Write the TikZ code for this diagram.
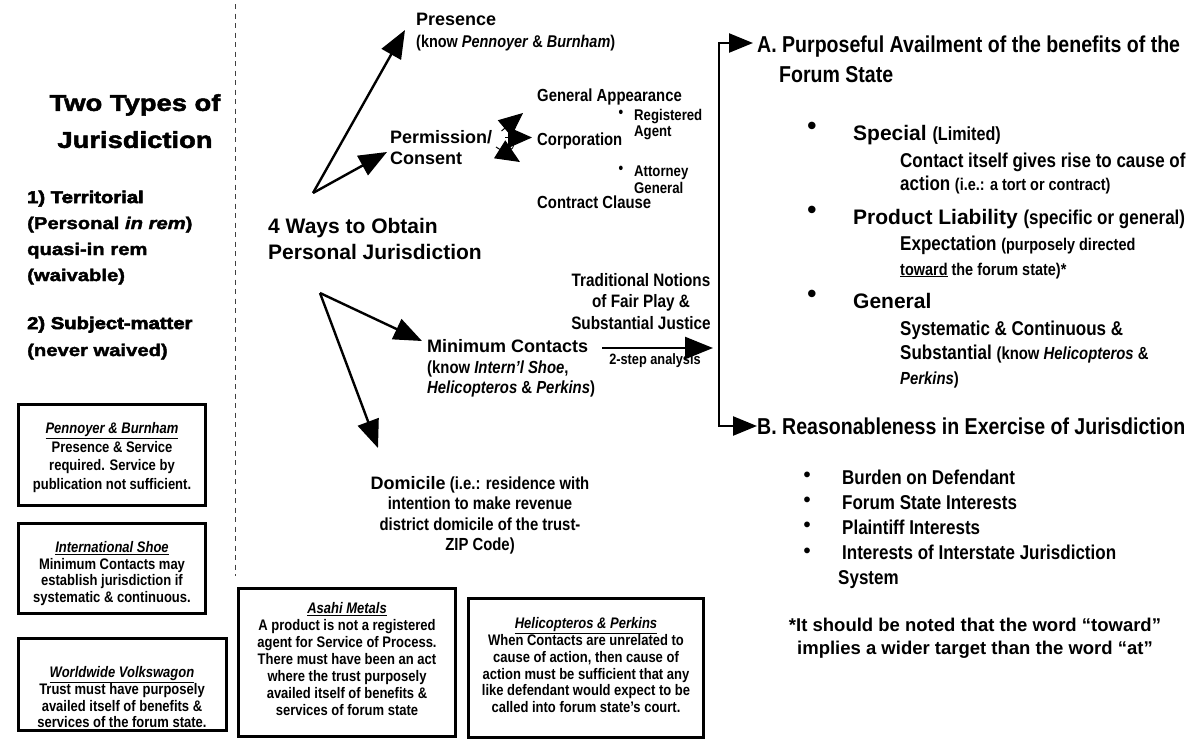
\documentclass[tikz,border=0pt]{standalone}
\usepackage{fontspec}
\setmainfont{Liberation Sans}
\newfontfamily\nar[FakeStretch=0.85]{Liberation Sans}
\newfontfamily\blk[FakeStretch=1.19,FakeBold=2.2]{Liberation Sans}
\newfontfamily\blkk[FakeStretch=1.19,FakeBold=3.5]{Liberation Sans}
\usetikzlibrary{arrows.meta}
\newcommand\W[2]{\normalfont\bfseries\fontsize{#1}{#2}\selectfont}
\newcommand\N[2]{\nar\bfseries\fontsize{#1}{#2}\selectfont}
\newcommand\B[2]{\blk\bfseries\fontsize{#1}{#2}\selectfont}
\begin{document}
\begin{tikzpicture}[x=1pt,y=-1pt,
  every node/.style={inner sep=0pt},
  txt/.style={align=left, anchor=north west},
  ctxt/.style={align=center, anchor=north},
  box/.style={draw, line width=3pt, inner sep=0pt},
  arr/.style={line width=2.4pt, -{Triangle[length=28pt,width=22pt]}},
  brk/.style={line width=2.4pt, {Triangle[length=24pt,width=19pt]}-{Triangle[length=24pt,width=19pt]}},
  bow/.style={line width=1pt, -{Triangle[length=24pt,width=21pt]}},
  bul/.style={font=\W{20}{20}}]
\fill[white] (0,0) rectangle (1199,740);
\useasboundingbox (0,0) rectangle (1199,740);

% divider
\coordinate (dv1) at (235,4); \coordinate (dv2) at (235,576);
\draw[dash pattern=on 5pt off 4.5pt, line width=0.9pt, black!75] (dv1) -- (dv2);

% left column
\node[ctxt, font=\B{23}{37}] (title) at (135,94) {Two Types of\\Jurisdiction};
\node[txt, font=\B{17}{26}] (terr) at (27,190.5) {{\blkk 1) Territorial}\\(Personal \textit{in rem})\\quasi-in rem\\(waivable)};
\node[txt, font=\B{17}{27}] (subj) at (27,316.5) {{\blkk 2) Subject-matter}\\(never waived)};

% boxes
\node[box, minimum width=187pt, minimum height=101pt] (bpen) at (112,455) {};
\node[ctxt, font=\N{15.3}{18.7}] (tpen) at (112,422.3) {\underline{\textit{Pennoyer \& Burnham}}\\Presence \& Service\\required. Service by\\publication not sufficient.};
\node[box, minimum width=187pt, minimum height=90pt] (bshoe) at (112,568.5) {};
\node[ctxt, font=\N{15.3}{16.7}] (tshoe) at (112,541.3) {\underline{\textit{International Shoe}}\\Minimum Contacts may\\establish jurisdiction if\\systematic \& continuous.};
\node[box, minimum width=208pt, minimum height=92pt] (bvw) at (122.5,684.5) {};
\node[ctxt, font=\N{15.3}{16.7}] (tvw) at (122,666.3) {\underline{\textit{Worldwide Volkswagon}}\\Trust must have purposely\\availed itself of benefits \&\\services of the forum state.};
\node[box, minimum width=217pt, minimum height=148pt] (basahi) at (347,662.5) {};
\node[ctxt, font=\N{15.3}{17}] (tasahi) at (347,602.3) {\underline{\textit{Asahi Metals}}\\A product is not a registered\\agent for Service of Process.\\There must have been an act\\where the trust purposely\\availed itself of benefits \&\\services of forum state};
\node[box, minimum width=235pt, minimum height=139pt] (bheli) at (586,668) {};
\node[ctxt, font=\N{15.3}{16.8}] (theli) at (586,617.3) {\underline{\textit{Helicopteros \& Perkins}}\\When Contacts are unrelated to\\cause of action, then cause of\\action must be sufficient that any\\like defendant would expect to be\\called into forum state’s court.};

% middle
\node[txt, font=\W{18}{21}] (pres) at (416,13) {Presence};
\node[txt, font=\N{17}{20}] (presk) at (416,34.5) {(know \textit{Pennoyer} \& \textit{Burnham})};
\node[txt, font=\W{18}{21}] (perm) at (390,130) {Permission/\\Consent};
\node[txt, font=\W{21}{26}] (four) at (268,218) {4 Ways to Obtain\\Personal Jurisdiction};
\node[txt, font=\W{18}{21}] (minc) at (427,339) {Minimum Contacts};
\node[txt, font=\N{17.5}{20}] (minck) at (427,360.5) {(know \textit{Intern’l Shoe},\\\textit{Helicopteros} \& \textit{Perkins})};
\node[ctxt, font=\N{17.5}{20.5}] (dom) at (480,476) {{\W{18}{20.5}Domicile} (i.e.: residence with\\intention to make revenue\\district domicile of the trust-\\ZIP Code)};

\node[txt, font=\N{17.5}{20}] (genapp) at (537,88.5) {General Appearance};
\node[txt, font=\N{17.5}{20}] (corp) at (537,132.5) {Corporation};
\node[txt, font=\N{17.5}{20}] (contr) at (537,195.5) {Contract Clause};
\node[txt, font=\N{15.5}{16}] (reg) at (634,109.5) {Registered\\Agent};
\node[font=\N{15.5}{16}] (regb) at (621,114) {•};
\node[txt, font=\N{15.5}{17}] (att) at (634,165.5) {Attorney\\General};
\node[font=\N{15.5}{16}] (attb) at (621,170) {•};

\node[ctxt, font=\N{18}{21.5}] (trad) at (641,273) {Traditional Notions\\of Fair Play \&\\Substantial Justice};
\node[font=\N{15}{16}] (two) at (655,361) {2-step analysis};

% right
\node[txt, font=\N{23}{30}] (A) at (757,35.2) {A. Purposeful Availment of the benefits of the\\\hspace*{22pt}Forum State};
\node[font=\W{26}{26}] (b1) at (812,128) {•};
\node[txt, font=\W{21}{24}] (spec) at (853,125) {Special {\N{19}{24}(Limited)}};
\node[txt, font=\N{20}{23}] (spect) at (900,152.4) {Contact itself gives rise to cause of\\action {\N{17}{23}(i.e.: a tort or contract)}};
\node[font=\W{26}{26}] (b2) at (812,212) {•};
\node[txt, font=\W{21}{24}] (prod) at (853,209) {Product Liability {\N{20}{24}(specific or general)}};
\node[txt, font=\N{20}{25}] (prodt) at (900,235.4) {Expectation {\N{17}{25}(purposely directed}\\{\N{17}{25}\underline{toward} the forum state)*}};
\node[font=\W{26}{26}] (b3) at (812,296) {•};
\node[txt, font=\W{21}{24}] (gen) at (853,293) {General};
\node[txt, font=\N{20}{24.5}] (gent) at (900,320.4) {Systematic \& Continuous \&\\Substantial {\N{17.5}{24.5}(know \textit{Helicopteros} \&}\\{\N{17.5}{24.5}\textit{Perkins})}};

\node[txt, font=\N{23}{26}] (B) at (757,417.2) {B. Reasonableness in Exercise of Jurisdiction};
\node[txt, font=\N{20}{25}] (blist) at (842,469.4) {Burden on Defendant\\Forum State Interests\\Plaintiff Interests\\Interests of Interstate Jurisdiction\\\hspace*{-4pt}System};
\node[bul] (bb1) at (807,477) {•};
\node[bul] (bb2) at (807,502) {•};
\node[bul] (bb3) at (807,527) {•};
\node[bul] (bb4) at (807,553) {•};

\node[ctxt, font=\W{18.5}{22.5}] (note) at (975,618) {*It should be noted that the word “toward”\\implies a wider target than the word “at”};

% connectors
\coordinate (o1) at (313,193);
\coordinate (presIn) at (405,30);
\coordinate (permIn) at (387,152);
\draw[arr] (o1) -- (presIn);
\draw[arr] (o1) -- (permIn);
\coordinate (o2) at (320,293);
\coordinate (mincIn) at (422,341);
\coordinate (domIn) at (378,448);
\draw[arr] (o2) -- (mincIn);
\draw[arr] (o2) -- (domIn);
\coordinate (mcOut) at (602,348);
\coordinate (brIn) at (713,348);
\draw[arr] (mcOut) -- (brIn);
\coordinate (brT) at (719,43);
\coordinate (brB) at (719,426);
\coordinate (aIn) at (753,43);
\coordinate (bIn) at (757,426);
\draw[brk] (aIn) -- (brT) -- (brB) -- (bIn);

% small arrows to consent options
\coordinate (bwC) at (511.5,137.5);
\coordinate (bwTs) at (501.5,131);
\coordinate (bwT) at (523,113);
\coordinate (bwRs) at (505,137.5);
\coordinate (bwR) at (532,137.5);
\coordinate (bwBs) at (496,147);
\coordinate (bwB) at (520,162);
\draw[line width=0.8pt] (bwC) ellipse (2.8 and 11.5);
\draw[bow] (bwRs) -- (bwR);
\draw[bow] (bwTs) -- (bwT);
\draw[bow] (bwBs) -- (bwB);
\end{tikzpicture}
\end{document}
